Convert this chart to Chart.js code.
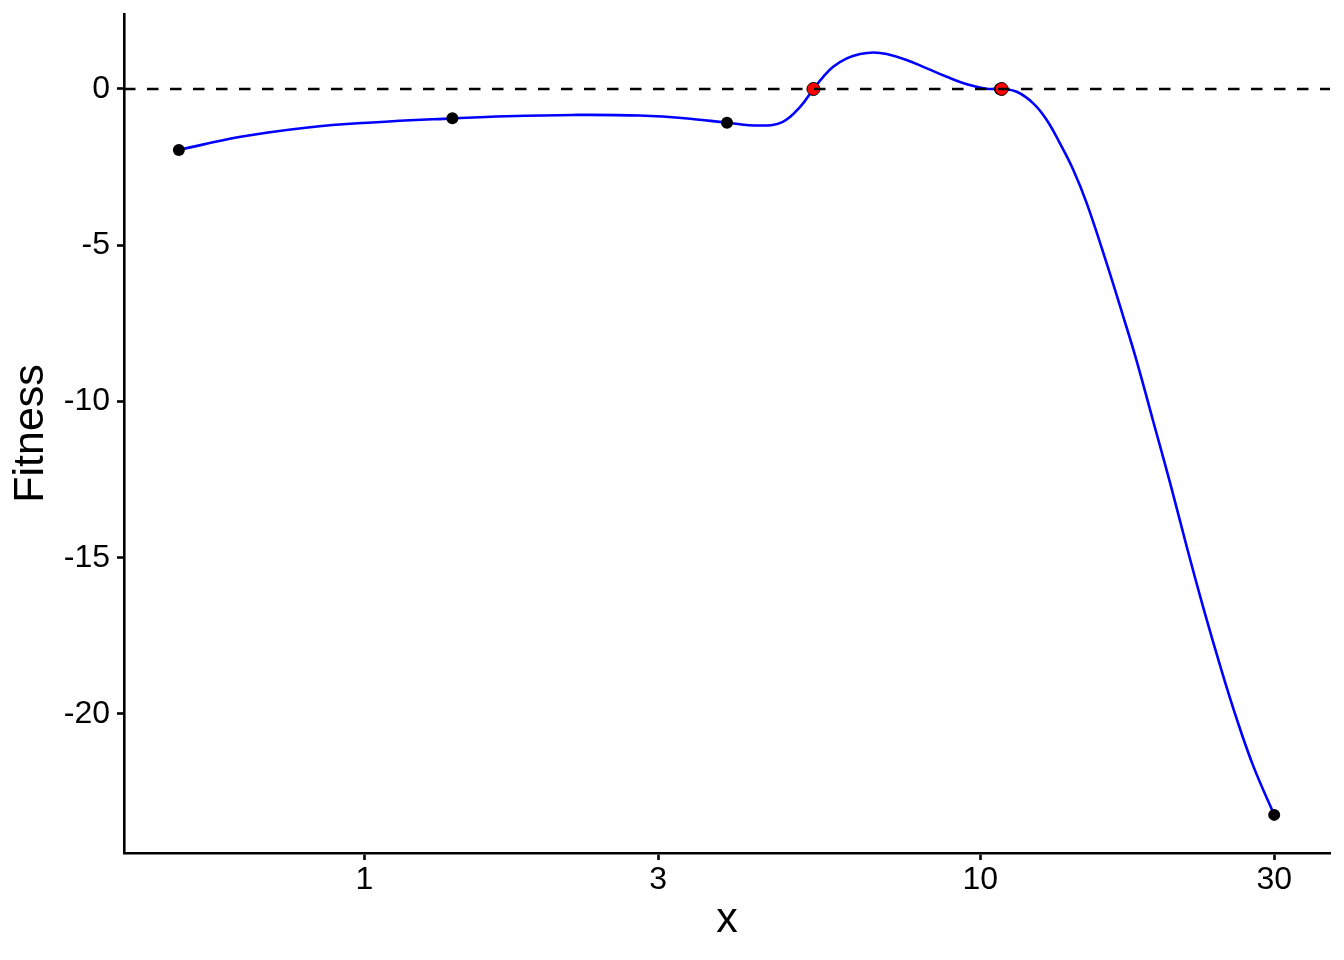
<!DOCTYPE html>
<html>
<head>
<meta charset="utf-8">
<script src="https://cdn.jsdelivr.net/npm/chart.js@4.4.1/dist/chart.umd.min.js"></script>
<style>
  html, body { margin: 0; padding: 0; background: #fff; }
  #wrap { width: 1344px; height: 960px; }
</style>
</head>
<body>
<div id="wrap"><canvas id="fitChart" width="1344" height="960"></canvas></div>
<script>
// fitted curve
const curveX = [0.5, 0.63, 0.81, 1.03, 1.39, 1.70, 2.18, 2.80, 3.38, 3.88, 4.39, 4.78, 5.10, 5.36, 5.56,
  5.77, 6.07, 6.38, 6.71, 7.05, 7.59, 8.19, 8.82, 9.51, 10.24, 10.83, 11.46, 12.19, 12.82, 13.47,
  14.16, 14.89, 16.04, 17.07, 17.94, 19.09, 20.32, 21.63, 23.01, 24.49, 26.08, 27.75, 30];
const curveY = [-1.95, -1.53, -1.23, -1.07, -0.94, -0.87, -0.83, -0.85, -0.95, -1.08, -1.17, -1.05, -0.57, 0, 0.39,
  0.71, 0.98, 1.12, 1.17, 1.12, 0.93, 0.66, 0.39, 0.15, 0.01, 0, -0.09, -0.46, -0.99, -1.74,
  -2.59, -3.66, -5.58, -7.29, -8.70, -10.64, -12.59, -14.64, -16.59, -18.43, -20.16, -21.67, -23.23];

// observed points
const obsX = [0.5, 1.39, 3.88, 10.76, 30];
const obsY = [-1.95, -0.94, -1.08, 0, -23.23];

// roots (red)
const rootX = [5.36, 10.83];
const rootY = [0, 0];

const xTicks = [1, 3, 10, 30];
const yTicks = [-20, -15, -10, -5, 0];
const xMin = 0.4073, xMax = 36.96;
const yMin = -24.45, yMax = 2.4;

const FONT = '"Liberation Sans", Arial, sans-serif';
const toXY = (xs, ys) => xs.map((x, i) => ({ x: x, y: ys[i] }));

const ctx = document.getElementById('fitChart').getContext('2d');
new Chart(ctx, {
  type: 'scatter',
  data: {
    datasets: [
      {
        // zero reference line
        data: toXY([xMin, xMax], [0, 0]),
        showLine: true,
        borderColor: '#000',
        borderWidth: 2.6,
        borderDash: [11.5, 11.5],
        pointRadius: 0,
        order: 0
      },
      {
        data: toXY(rootX, rootY),
        backgroundColor: '#ff0000',
        borderColor: '#000',
        borderWidth: 1,
        pointRadius: 6.5,
        order: 1
      },
      {
        data: toXY(obsX, obsY),
        backgroundColor: '#000',
        borderColor: '#000',
        borderWidth: 0,
        pointRadius: 6,
        order: 2
      },
      {
        data: toXY(curveX, curveY),
        showLine: true,
        borderColor: '#0000ff',
        borderWidth: 2.6,
        pointRadius: 0,
        tension: 0.4,
        order: 3
      }
    ]
  },
  options: {
    responsive: false,
    animation: false,
    events: [],
    layout: { padding: { top: 14, right: 14, left: 0, bottom: 0 } },
    plugins: { legend: { display: false }, tooltip: { enabled: false } },
    scales: {
      x: {
        type: 'logarithmic',
        min: xMin,
        max: xMax,
        afterBuildTicks: s => { s.ticks = xTicks.map(v => ({ value: v })); },
        afterFit: s => { s.height = 107; s.paddingLeft = 0; s.paddingRight = 0; },
        ticks: {
          callback: v => String(v),
          color: '#000',
          font: { family: FONT, size: 32 },
          padding: 1,
          maxRotation: 0,
          autoSkip: false
        },
        grid: { drawOnChartArea: false, tickLength: 7, tickColor: '#000', tickWidth: 2.6 },
        border: { display: true, color: '#000', width: 2.6 },
        title: { display: true, text: 'x', color: '#000', font: { family: FONT, size: 43 }, padding: { top: 0, bottom: 14 } }
      },
      y: {
        min: yMin,
        max: yMax,
        afterBuildTicks: s => { s.ticks = yTicks.map(v => ({ value: v })); },
        afterFit: s => { s.width = 124; s.paddingTop = 0; s.paddingBottom = 0; },
        ticks: {
          callback: v => String(v),
          color: '#000',
          font: { family: FONT, size: 32 },
          padding: 7
        },
        grid: { drawOnChartArea: false, tickLength: 7, tickColor: '#000', tickWidth: 2.6 },
        border: { display: true, color: '#000', width: 2.6 },
        title: { display: true, text: 'Fitness', color: '#000', font: { family: FONT, size: 43 }, padding: { top: 5, bottom: 0 } }
      }
    }
  }
});
</script>
</body>
</html>
